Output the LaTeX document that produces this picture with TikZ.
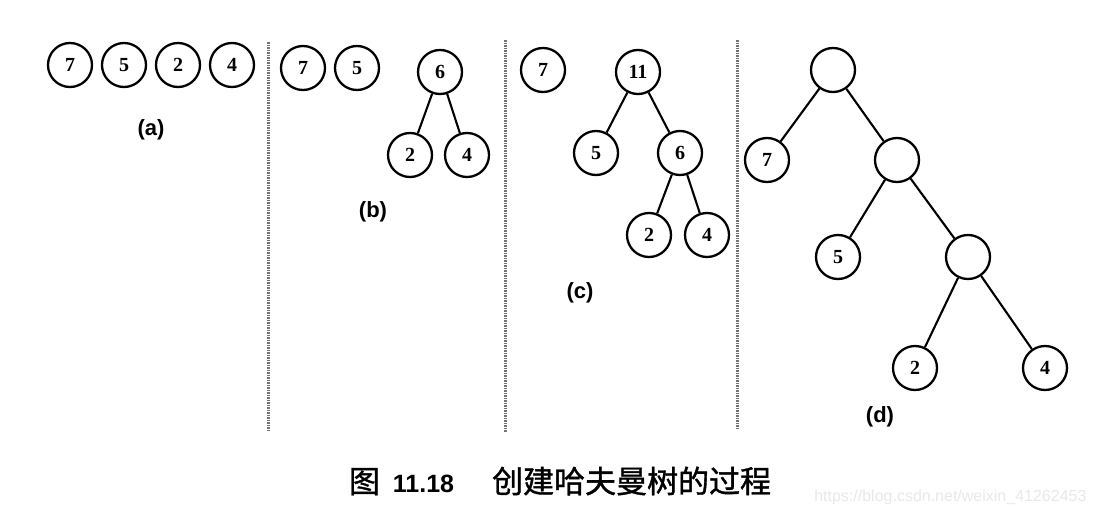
\documentclass[tikz,border=0pt]{standalone}
\usepackage{fontspec}
\setmainfont{Liberation Serif}
\setsansfont{Liberation Sans}
\newfontfamily\cjk[FakeBold=1.2]{Noto Sans CJK SC}

\begin{document}
\begin{tikzpicture}[x=1pt,y=-1pt,
		knot/.style={circle,draw,line width=2.3pt,minimum size=44pt,inner sep=0pt,
			font=\fontsize{20}{20}\selectfont\bfseries},
		edge/.style={line width=2.1pt},
		sep/.style={draw=black!55,line width=3pt,dash pattern=on 1.5pt off 1pt},
		tag/.style={font=\sffamily\bfseries\fontsize{22}{22}\selectfont}]
		\useasboundingbox (0,0) rectangle (1097,514);
		% (a)
		\node[knot] (a7) at (70,65) {7};
		\node[knot] (a5) at (124,65) {5};
		\node[knot] (a2) at (178,65) {2};
		\node[knot] (a4) at (232,65) {4};
		\node[tag] (la) at (151,130) {(a)};
		\coordinate (s1t) at (268,42);
		\coordinate (s1b) at (268,432);
		\draw[sep] (s1t) -- (s1b);
		% (b)
		\node[knot] (b7) at (303,68) {7};
		\node[knot] (b5) at (357,68) {5};
		\node[knot] (b6) at (440,72) {6};
		\node[knot] (b2) at (410,155) {2};
		\node[knot] (b4) at (467,155) {4};
		\draw[edge] (b6) -- (b2);
		\draw[edge] (b6) -- (b4);
		\node[tag] (lb) at (373,212) {(b)};
		\coordinate (s2t) at (505,40);
		\coordinate (s2b) at (505,432);
		\draw[sep] (s2t) -- (s2b);
		% (c)
		\node[knot] (c7) at (543,70) {7};
		\node[knot] (c11) at (638,72) {11};
		\node[knot] (c5) at (596,153) {5};
		\node[knot] (c6) at (680,153) {6};
		\node[knot] (c2) at (649,235) {2};
		\node[knot] (c4) at (707,235) {4};
		\draw[edge] (c11) -- (c5);
		\draw[edge] (c11) -- (c6);
		\draw[edge] (c6) -- (c2);
		\draw[edge] (c6) -- (c4);
		\node[tag] (lc) at (580,293) {(c)};
		\coordinate (s3t) at (737,40);
		\coordinate (s3b) at (737,430);
		\draw[sep] (s3t) -- (s3b);
		% (d)
		\node[knot] (droot) at (833,70) {};
		\node[knot] (d7) at (767,160) {7};
		\node[knot] (dmid) at (897,160) {};
		\node[knot] (d5) at (838,257) {5};
		\node[knot] (dlow) at (968,257) {};
		\node[knot] (d2) at (915,368) {2};
		\node[knot] (d4) at (1045,368) {4};
		\draw[edge] (droot) -- (d7);
		\draw[edge] (droot) -- (dmid);
		\draw[edge] (dmid) -- (d5);
		\draw[edge] (dmid) -- (dlow);
		\draw[edge] (dlow) -- (d2);
		\draw[edge] (dlow) -- (d4);
		\node[tag] (ld) at (880,417) {(d)};
		% caption
		\node[font=\fontsize{31}{31}\selectfont] (cap) at (560,481)
			{\cjk 图\hspace{13pt}{\sffamily\bfseries\fontsize{25}{25}\selectfont 11.18}\hspace{38pt}创建哈夫曼树的过程};
		\node[anchor=east,text=black!9,font=\sffamily\fontsize{16}{16}\selectfont] (wm) at (1090,497)
			{https://blog.csdn.net/weixin\_41262453};
\end{tikzpicture}
\end{document}
